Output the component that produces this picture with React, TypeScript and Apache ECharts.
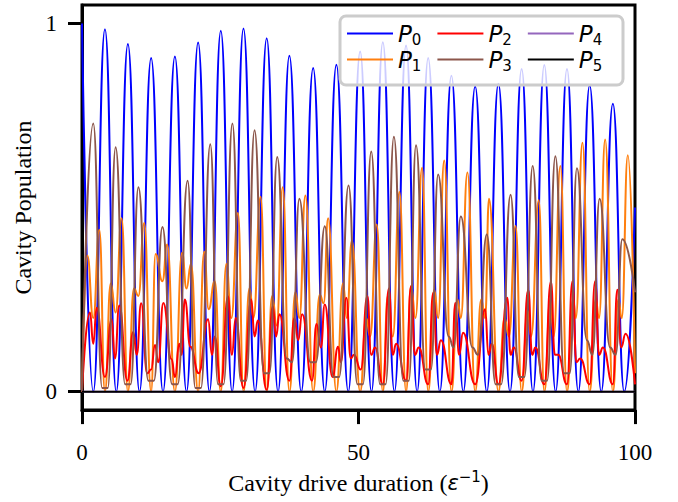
import React, { useEffect, useRef } from "react";
import * as echarts from "echarts";

// Populations: [duration, population]
const p0Points: [number, number][] = [
  [0, 1.0], [2.05, 0], [4.15, 0.984], [6.2, 0], [8.3, 0.944], [10.4, 0], [12.5, 0.906], [14.65, 0],
  [16.8, 0.91], [18.9, 0], [21.0, 0.948], [23.05, 0], [25.1, 0.98], [27.15, 0], [29.2, 0.986], [31.3, 0],
  [33.4, 0.96], [35.45, 0], [37.5, 0.912], [39.65, 0], [41.8, 0.879], [43.9, 0], [46.0, 0.888], [48.15, 0],
  [50.3, 0.924], [52.35, 0], [54.4, 0.949], [56.5, 0], [58.6, 0.94], [60.6, 0], [62.6, 0.906], [64.7, 0],
  [66.8, 0.858], [68.95, 0], [71.1, 0.829], [73.2, 0], [75.3, 0.836], [77.4, 0], [79.5, 0.876], [81.55, 0],
  [83.6, 0.887], [85.65, 0], [87.7, 0.876], [89.75, 0], [91.8, 0.832], [93.9, 0], [96.0, 0.782], [98.05, 0],
  [100, 0.5],
];

const p1Points: [number, number][] = [
  [0, 0], [0.96, 0.37], [2.04, 0.2], [3.13, 0.44], [4.15, 0],
  [5.2, 0.294], [6.08, 0.215], [7.16, 0.471], [8.3, 0],
  [9.4, 0.28], [10.2, 0.26], [11.25, 0.458], [12.5, 0],
  [13.3, 0.374], [14.55, 0.3], [15.4, 0.4], [16.8, 0],
  [18.1, 0.377], [18.9, 0.28], [19.7, 0.347], [21.0, 0],
  [22.1, 0.38], [22.9, 0.224], [24.0, 0.3], [25.1, 0],
  [26.1, 0.347], [27.0, 0.2], [28.2, 0.485], [29.2, 0],
  [30.3, 0.281], [31.0, 0.2], [32.3, 0.529], [33.4, 0],
  [34.4, 0.26], [35.2, 0.18], [36.3, 0.555], [37.5, 0],
  [38.6, 0.27], [39.3, 0.2], [40.4, 0.533], [41.8, 0],
  [43.0, 0.263], [43.7, 0.24], [44.5, 0.471], [46.0, 0],
  [47.2, 0.294], [47.9, 0.2], [48.8, 0.41], [50.3, 0],
  [51.4, 0.2], [52.1, 0.15], [53.3, 0.454], [54.4, 0],
  [55.3, 0.26], [56.2, 0.15], [57.4, 0.542], [58.6, 0],
  [59.5, 0.286], [60.3, 0.2], [61.5, 0.608], [62.6, 0],
  [63.7, 0.277], [64.4, 0.2], [65.5, 0.628], [66.8, 0],
  [67.9, 0.25], [68.5, 0.2], [69.7, 0.595], [71.1, 0],
  [72.2, 0.25], [72.9, 0.2], [73.6, 0.524], [75.3, 0],
  [76.4, 0.2], [77.2, 0.15], [78.4, 0.45], [79.5, 0],
  [80.6, 0.22], [81.2, 0.15], [82.6, 0.52], [83.6, 0],
  [84.7, 0.25], [85.3, 0.15], [86.5, 0.613], [87.7, 0],
  [88.8, 0.25], [89.3, 0.2], [90.5, 0.676], [91.8, 0],
  [92.9, 0.25], [93.5, 0.2], [94.6, 0.685], [96.0, 0],
  [97.0, 0.25], [97.6, 0.2], [98.7, 0.642], [100, 0.05],
];

const p2Points: [number, number][] = [
  [0, 0], [1.44, 0.215], [2.04, 0.13], [2.65, 0.228], [4.15, 0.04],
  [5.36, 0.197], [5.96, 0.09], [6.74, 0.234], [8.2, 0.03],
  [9.27, 0.162], [9.9, 0.1], [10.7, 0.24], [11.8, 0.05], [12.5, 0.06],
  [13.2, 0.127], [13.8, 0.08], [14.7, 0.241], [16.2, 0.088], [16.8, 0.04],
  [17.6, 0.13], [18.0, 0.1], [18.6, 0.25], [19.6, 0.122], [21.1, 0.05],
  [22.8, 0.197], [23.5, 0.1], [24.0, 0.15], [25.1, 0.015],
  [26.4, 0.259], [27.1, 0.1], [27.8, 0.2], [29.2, 0.01],
  [30.6, 0.25], [31.2, 0.15], [31.8, 0.193], [33.4, 0.005],
  [34.5, 0.232], [35.1, 0.15], [35.7, 0.21], [37.5, 0.03],
  [38.4, 0.2], [39.1, 0.14], [39.8, 0.21], [41.6, 0.03],
  [42.4, 0.184], [43.2, 0.12], [43.9, 0.237], [45.3, 0.04], [46.3, 0.122], [46.8, 0.08],
  [47.8, 0.255], [48.6, 0.09], [49.2, 0.1], [50.4, 0.06],
  [51.6, 0.26], [52.3, 0.1], [53.0, 0.12], [54.4, 0.02],
  [55.5, 0.28], [56.2, 0.1], [56.8, 0.13], [58.6, 0.03],
  [59.5, 0.286], [60.2, 0.1], [60.9, 0.12], [62.6, 0.02],
  [63.5, 0.268], [64.2, 0.1], [64.9, 0.14], [66.8, 0.02],
  [67.5, 0.241], [68.2, 0.1], [68.9, 0.16], [71.1, 0.02],
  [72.9, 0.224], [73.5, 0.1], [74.1, 0.13], [75.3, 0.02],
  [76.9, 0.255], [77.5, 0.1], [78.1, 0.12], [79.5, 0.03],
  [80.7, 0.277], [81.4, 0.1], [82.0, 0.12], [83.6, 0.02],
  [84.8, 0.299], [85.5, 0.1], [86.1, 0.1], [87.7, 0.02],
  [88.7, 0.3], [89.4, 0.08], [90.1, 0.09], [91.8, 0.02],
  [92.8, 0.3], [93.5, 0.1], [94.2, 0.12], [96.0, 0.02],
  [96.8, 0.277], [97.5, 0.12], [98.3, 0.157], [100, 0.02],
];

const p3Points: [number, number][] = [
  [0, 0],
  [2.04, 0.728], [3.65, 0.01], [4.65, 0.01],
  [6.08, 0.664], [7.8, 0.02], [8.8, 0.02],
  [10.2, 0.555], [12.0, 0.03], [13.0, 0.03],
  [14.55, 0.447], [16.3, 0.02], [17.3, 0.02],
  [19.1, 0.573], [20.5, 0.01], [21.5, 0.01],
  [23.2, 0.672], [24.6, 0.02], [25.6, 0.02],
  [27.2, 0.728], [28.7, 0.03], [29.7, 0.03],
  [31.2, 0.71], [32.9, 0.05], [33.9, 0.05],
  [35.3, 0.637], [37.0, 0.09], [38.0, 0.08],
  [39.3, 0.524], [41.3, 0.08], [42.3, 0.08],
  [43.9, 0.449], [45.5, 0.04], [46.5, 0.04],
  [48.2, 0.56], [49.8, 0.02], [50.8, 0.02],
  [52.3, 0.652], [53.9, 0.02], [54.9, 0.02],
  [56.4, 0.692], [58.1, 0.03], [59.1, 0.03],
  [60.4, 0.669], [62.1, 0.06], [63.1, 0.06],
  [64.4, 0.59], [66.3, 0.15], [67.2, 0.12],
  [68.5, 0.476], [70.6, 0.12], [71.6, 0.1],
  [73.2, 0.427], [74.8, 0.02], [75.8, 0.02],
  [77.5, 0.535], [79.0, 0.04], [80.0, 0.04],
  [81.5, 0.613], [83.1, 0.03], [84.1, 0.03],
  [85.6, 0.639], [87.2, 0.05], [88.2, 0.05],
  [89.5, 0.607], [91.3, 0.14], [92.3, 0.1],
  [93.6, 0.524], [95.5, 0.12], [96.5, 0.1],
  [97.7, 0.414], [100, 0.27],
];

const p4Points: [number, number][] = [[0, 0], [100, 0]];
const p5Points: [number, number][] = [[0, 0], [100, 0]];

const seriesNames = ["P0", "P1", "P2", "P3", "P4", "P5"];
const seriesColors = ["#0000ff", "#ff7f0e", "#ff0000", "#8c564b", "#9467bd", "#000000"];
const seriesData = [p0Points, p1Points, p2Points, p3Points, p4Points, p5Points];

const xTicks = [0, 50, 100];
const yTicks = [0, 1];

const serif = "'Liberation Serif', 'DejaVu Serif', serif";
const sans = "'DejaVu Sans', sans-serif";

export default function App() {
  const ref = useRef<HTMLDivElement>(null);
  useEffect(() => {
    if (!ref.current) return;
    const chart = echarts.init(ref.current, undefined, { renderer: "svg" });
    const legendText = {
      width: 30,
      rich: {
        p: { fontFamily: sans, fontStyle: "italic", fontSize: 23, lineHeight: 28, color: "#000" },
        s: { fontFamily: sans, fontSize: 15, lineHeight: 14, verticalAlign: "bottom", color: "#000" },
      },
    };
    const legendCommon = {
      orient: "horizontal",
      left: 347,
      icon: "rect",
      itemWidth: 46,
      itemHeight: 2,
      itemGap: 16,
      padding: 0,
      z: 20,
      selectedMode: false,
      formatter: (name: string) => `{p|P}{s|${name.slice(1)}}`,
      textStyle: legendText,
    };
    chart.setOption({
      animation: false,
      grid: {
        left: 82, right: 43, top: 5, bottom: 82,
        show: true, borderColor: "#000", borderWidth: 3, backgroundColor: "transparent",
      },
      legend: [
        { ...legendCommon, top: 22, data: ["P0", "P2", "P4"] },
        { ...legendCommon, top: 48, data: ["P1", "P3", "P5"] },
      ],
      graphic: [
        {
          type: "rect",
          z: 19,
          shape: { x: 340, y: 16, width: 283, height: 69, r: 6 },
          style: { fill: "rgba(255,255,255,0.8)", stroke: "#cccccc", lineWidth: 3 },
        },
      ],
      xAxis: {
        type: "value",
        min: 0,
        max: 100,
        interval: 50,
        axisLine: { show: true, onZero: false, lineStyle: { color: "#000", width: 3 } },
        axisTick: { show: true, length: 14, customValues: xTicks, lineStyle: { color: "#000", width: 3 } },
        axisLabel: { color: "#000", fontFamily: serif, fontSize: 23, margin: 31, customValues: xTicks },
        splitLine: { show: false },
        name: "Cavity drive duration ({e|ε}{u|−1})",
        nameLocation: "middle",
        nameGap: 53,
        nameTextStyle: {
          color: "#000", fontFamily: serif, fontSize: 24, lineHeight: 28,
          rich: {
            e: { fontFamily: sans, fontStyle: "italic", fontSize: 21, lineHeight: 28, color: "#000" },
            u: { fontFamily: sans, fontSize: 15, lineHeight: 15, verticalAlign: "top", color: "#000" },
          },
        },
      },
      yAxis: {
        type: "value",
        min: -0.05,
        max: 1.05,
        axisLine: { show: true, onZero: false, lineStyle: { color: "#000", width: 3 } },
        axisTick: { show: true, length: 14, customValues: yTicks, lineStyle: { color: "#000", width: 3 } },
        axisLabel: { color: "#000", fontFamily: serif, fontSize: 23, margin: 25, customValues: yTicks },
        splitLine: { show: false },
        name: "Cavity Population",
        nameLocation: "middle",
        nameGap: 47,
        nameTextStyle: { color: "#000", fontFamily: serif, fontSize: 24 },
      },
      series: seriesNames.map((name, i) => ({
        name,
        type: "line",
        data: seriesData[i],
        showSymbol: false,
        smooth: 0.5,
        smoothMonotone: "x",
        color: seriesColors[i],
        lineStyle: { color: seriesColors[i], width: 2 },
        z: 2 + i * 0.01,
      })),
    });
    return () => chart.dispose();
  }, []);
  return <div ref={ref} style={{ width: 678, height: 502, position: "absolute", left: 0, top: 0 }} />;
}
